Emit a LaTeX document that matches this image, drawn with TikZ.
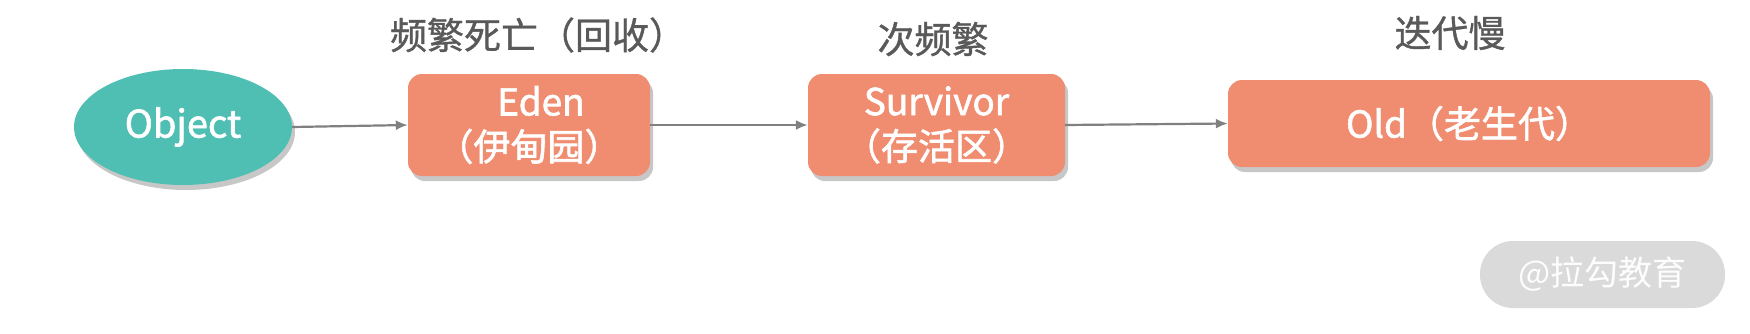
\documentclass[tikz,border=0pt]{standalone}
\usepackage{fontspec}
\setmainfont{Noto Sans CJK SC}
\newfontfamily\boxfont[FakeBold=1.6]{Noto Sans CJK SC}
\newfontfamily\lblfont[FakeBold=1.0]{Noto Sans CJK SC}
\usetikzlibrary{shapes.geometric,shadows,arrows.meta}
\definecolor{tealfill}{HTML}{4FBFB3}
\definecolor{coralfill}{HTML}{F08C70}
\definecolor{lblgray}{HTML}{595959}
\definecolor{arrgray}{HTML}{808080}
\definecolor{wmgray}{HTML}{DADADA}
\begin{document}
\begin{tikzpicture}[x=1pt,y=-1pt,
  softshadow/.style={drop shadow={shadow xshift=3pt,shadow yshift=-5pt,opacity=0.22,fill=black}},
  objnode/.style={ellipse,fill=tealfill,text=white,inner sep=0pt,minimum width=218pt,minimum height=116pt,font=\boxfont\fontsize{38}{42}\selectfont,softshadow},
  boxnode/.style={rectangle,rounded corners=14pt,fill=coralfill,text=white,inner sep=0pt,align=center,font=\boxfont\fontsize{37}{45}\selectfont,softshadow},
  lblnode/.style={text=lblgray,inner sep=0pt,font=\lblfont\fontsize{37}{42}\selectfont},
  conn/.style={draw=arrgray,line width=2.2pt,-{Latex[length=12pt,width=10pt]}}
]
\useasboundingbox (0,0) rectangle (1750,333);
\node[objnode] (obj) at (183,127) {Object};
\node[boxnode,minimum width=242pt,minimum height=102pt] (eden) at (529,125) {\hspace*{24pt}Eden\\（伊甸园）};
\node[boxnode,minimum width=257pt,minimum height=102pt] (surv) at (936.5,125) {Survivor\\（存活区）};
\node[boxnode,minimum width=482pt,minimum height=87pt] (old) at (1469,123.5) {Old（老生代）};
\node[lblnode] (l1) at (538,35) {频繁死亡（回收）};
\node[lblnode] (l2) at (933,39) {次频繁};
\node[lblnode] (l3) at (1450,33) {迭代慢};
\draw[conn] (obj.east) -- (eden.west);
\draw[conn] (eden.east) -- (surv.west);
\draw[conn] (surv.east) -- (old.west);
\node[fill=wmgray,rounded corners=33pt,minimum width=245pt,minimum height=67pt,inner sep=0pt,text=white!96!wmgray,font=\fontsize{34}{40}\selectfont] (wm) at (1602.5,274.5) {@拉勾教育};
\end{tikzpicture}
\end{document}
